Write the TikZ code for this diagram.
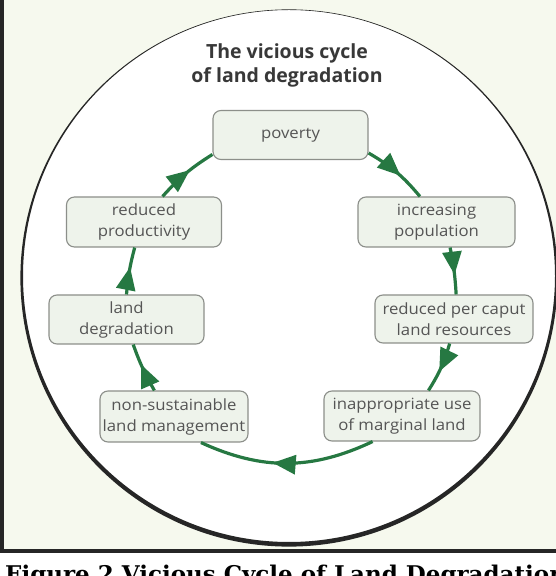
\documentclass[tikz,border=0pt]{standalone}
\usepackage{fontspec}
\usetikzlibrary{arrows.meta,decorations.markings}
\newfontfamily\boxfont[FakeStretch=1.08]{Open Sans}
\newfontfamily\titlefont{Open Sans}
\newfontfamily\capfont{DejaVu Serif}
\definecolor{cyclegreen}{HTML}{267842}
\definecolor{boxfill}{HTML}{EEF3EB}
\definecolor{boxline}{HTML}{8C8F8A}
\definecolor{paper}{HTML}{F6F9EE}
\definecolor{boxtext}{HTML}{555555}
\tikzset{
  stage/.style={draw=boxline, line width=1.1pt, fill=boxfill, rounded corners=8pt,
    minimum height=49pt, minimum width=155pt, align=center, inner sep=0pt,
    font=\boxfont\fontsize{15.5}{21}\selectfont, text=boxtext},
  cyc/.style={color=cyclegreen, line width=3.2pt, postaction={decorate},
    decoration={markings, mark=at position 0.58 with {\arrow{Triangle[length=23pt,width=19pt]}}}}
}
\begin{document}
\begin{tikzpicture}[x=1pt,y=1pt]
    \useasboundingbox (0,0) rectangle (556,576);
    \clip (0,0) rectangle (556,576);

    % 底色与边框
    \fill[white] (0,0) rectangle (556,576);
    \fill[paper] (2,25) rectangle (556,576);
    \fill[black!85] (0,23) rectangle (4,576);
    \fill[black!85] (0,23) rectangle (556,27);

    % 圆
    \fill[white] (289,300) circle (266);
    \fill[black!85, even odd rule] (289,298) circle (268.6) (289,300) circle (266);

    % 标题
    \node[font=\titlefont\bfseries\fontsize{19.5}{24}\selectfont, text=black!78, align=center] (title) at (287,511) {The vicious cycle\\of land degradation};

    % 七个环节
    \node[stage] (pov) at (290.5,441) {poverty};
    \node[stage, minimum width=157pt, minimum height=50pt] (pop) at (436.5,354) {increasing\\population};
    \node[stage, minimum width=158pt, minimum height=48pt] (cap) at (454,257) {reduced per caput\\land resources};
    \node[stage, minimum width=156pt, minimum height=50pt] (inap) at (402,160) {inappropriate use\\of marginal land};
    \node[stage, minimum width=148pt, minimum height=51pt] (nons) at (174,159.5) {non-sustainable\\land management};
    \node[stage] (deg) at (126.5,256.5) {land\\degradation};
    \node[stage, minimum height=50pt] (prod) at (144,354) {reduced\\productivity};

    % 循环箭头
    \draw[cyc] (pov.-13) to[bend left=10] (pop.123);
    \draw[cyc] (pop.-62) to[bend left=4] (cap.85);
    \draw[cyc] (cap.260) to[bend left=8] (inap.44);
    \draw[cyc] (inap.221) to[bend left=25] (nons.-44);
    \draw[cyc] (nons.127) to[bend left=5] (deg.-75);
    \draw[cyc] (deg.90) to[bend left=5] (prod.250);
    \draw[cyc] (prod.54) to[bend left=8] (pov.194);

    % 图注
    \node[font=\capfont\bfseries\fontsize{23}{27}\selectfont, anchor=base west, inner sep=0pt] (caption) at (5,-6) {Figure 2 Vicious Cycle of Land Degradation};
\end{tikzpicture}
\end{document}
